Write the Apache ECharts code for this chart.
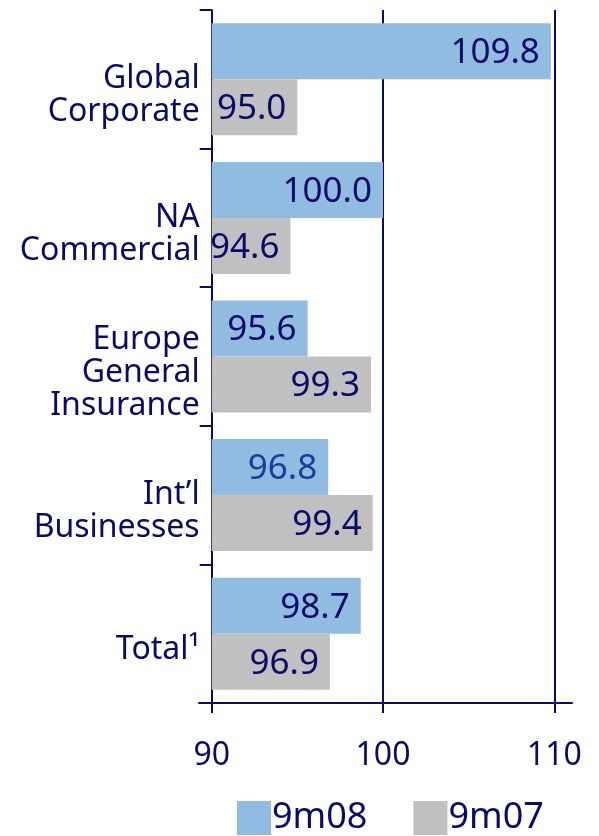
<!DOCTYPE html>
<html>
<head>
<meta charset="utf-8">
<script src="https://cdn.jsdelivr.net/npm/echarts@6/dist/echarts.min.js"></script>
<style>
  html, body { margin: 0; padding: 0; background: #fff; }
  #chart { width: 599px; height: 836px; }
</style>
</head>
<body>
<div id="chart"></div>
<script>
const categories = ["Global\nCorporate", "NA\nCommercial", "Europe\nGeneral\nInsurance", "Int\u2019l\nBusinesses", "Total\u00b9"];
const values9m08 = [109.8, 100.0, 95.6, 96.8, 98.7];
const values9m07 = [95.0, 94.6, 99.3, 99.4, 96.9];
const xTicks = [90, 100, 110];

const navy = "#0a0a6a";
const font = "Noto Sans";

// initialize echarts instance with prepared DOM
const myChart = echarts.init(document.getElementById("chart"));

const labelStyle = {
  show: true,
  position: "insideRight",
  distance: 11,
  offset: [0, 2],
  color: navy,
  fontFamily: font,
  fontSize: 35,
  formatter: (p) => p.value.toFixed(1),
};

myChart.setOption({
  animation: false,
  textStyle: { fontFamily: font },
  grid: [
    { left: 211.7, right: 44.7, top: 10, bottom: 133, containLabel: false },
    // wider grid only used to draw the long x axis line
    { left: 199, right: 27, top: 10, bottom: 133, containLabel: false },
  ],
  legend: {
    left: 237,
    top: 800,
    padding: 0,
    itemWidth: 34,
    itemHeight: 34,
    itemGap: 46,
    icon: "rect",
    textStyle: { color: navy, fontFamily: font, fontSize: 36, padding: [0, 0, 0, -4] },
    data: ["9m08", "9m07"],
  },
  xAxis: [
    {
      gridIndex: 0,
      type: "value",
      min: xTicks[0],
      max: xTicks[xTicks.length - 1],
      interval: 10,
      axisLine: { show: false },
      axisTick: { show: true, inside: false, length: 10, lineStyle: { color: navy, width: 2 } },
      axisLabel: { color: navy, fontFamily: font, fontSize: 32, margin: 37 },
      splitLine: { show: true, lineStyle: { color: navy, width: 2 } },
    },
    {
      gridIndex: 1,
      type: "value",
      min: 0,
      max: 1,
      axisLine: { show: true, lineStyle: { color: navy, width: 2 } },
      axisTick: { show: false },
      axisLabel: { show: false },
      splitLine: { show: false },
    },
  ],
  yAxis: [
    {
      gridIndex: 0,
      type: "category",
      inverse: true,
      data: categories,
      axisLine: { show: true, lineStyle: { color: navy, width: 2 } },
      axisTick: { show: true, length: 12, lineStyle: { color: navy, width: 2 } },
      axisLabel: {
        color: navy, fontFamily: font, fontSize: 32, lineHeight: 33,
        margin: 12, align: "right",
        // leading blank line pushes the text a little below the band centre
        formatter: (v) => " \n" + v,
      },
    },
    {
      gridIndex: 1,
      type: "value",
      show: false,
    },
  ],
  series: [
    {
      name: "9m08",
      type: "bar",
      xAxisIndex: 0,
      yAxisIndex: 0,
      barWidth: 56,
      barGap: "0%",
      itemStyle: { color: "#91bce1" },
      label: labelStyle,
      data: values9m08.map((v, i) =>
        i === 3 ? { value: v, label: { color: "#1a3d9c" } } : v
      ),
    },
    {
      name: "9m07",
      type: "bar",
      xAxisIndex: 0,
      yAxisIndex: 0,
      barWidth: 56,
      barGap: "0%",
      itemStyle: { color: "#c0c0c0" },
      label: labelStyle,
      data: values9m07,
    },
  ],
});
</script>
</body>
</html>
